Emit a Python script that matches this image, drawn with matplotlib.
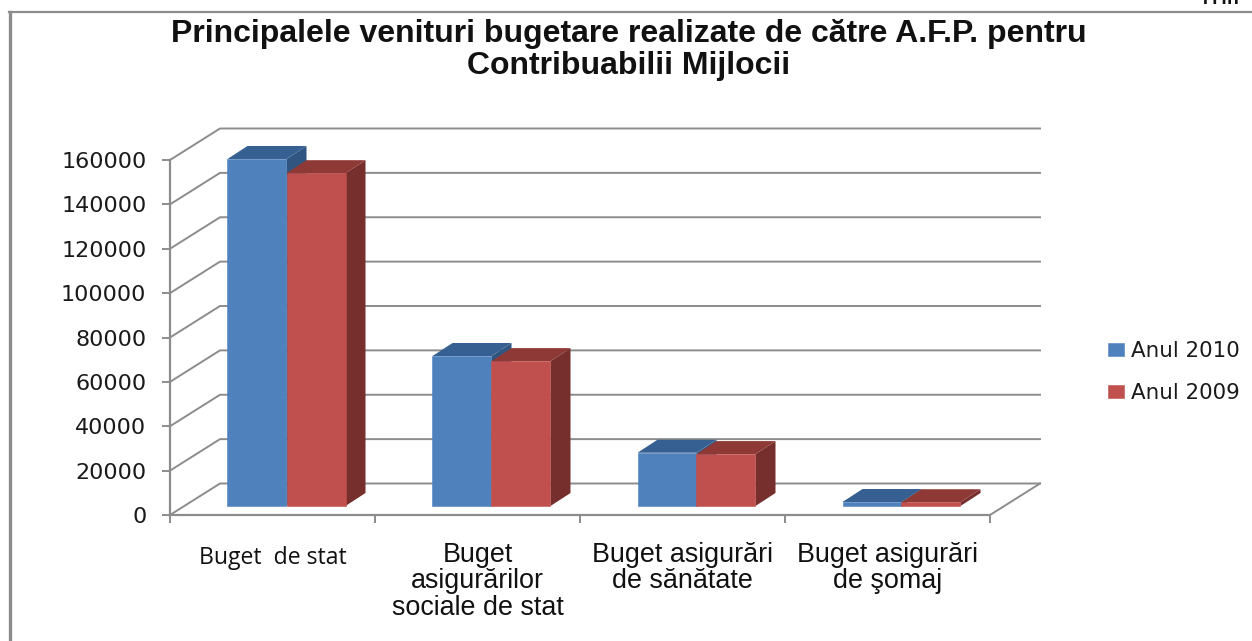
import matplotlib
matplotlib.use("Agg")
import matplotlib.pyplot as plt
from matplotlib.patches import Polygon
from matplotlib.lines import Line2D

title = "Principalele venituri bugetare realizate de către A.F.P. pentru\nContribuabilii Mijlocii"
categories = ["Buget  de stat", "Buget\nasigurărilor\nsociale de stat", "Buget asigurări\nde sănătate", "Buget asigurări\nde şomaj"]
series_names = ["Anul 2010", "Anul 2009"]
values_2010 = [156400, 67600, 24000, 1800]
values_2009 = [150000, 65300, 23400, 1700]
y_ticks = [0, 20000, 40000, 60000, 80000, 100000, 120000, 140000, 160000]

W, H = 1252, 641
GRAY = "#8c8c8c"
front = ["#4f81bd", "#c0504d"]
top = ["#376092", "#8e3936"]
side = ["#2f5580", "#772f2d"]

fig = plt.figure(figsize=(W / 100, H / 100), dpi=100, facecolor="white")
ax = fig.add_axes([170 / W, (H - 515) / H, 820 / W, 355 / H], facecolor="none")
ax.set_xlim(0, 4)
ax.set_ylim(0, 160000)
px_x = 4 / 820
px_y = 160000 / 355

# wall depth and bar placement, in pixels converted to data units
dx, dy = 50 * px_x, 31.5 * px_y
bx0, by0 = 14 * px_x, 9 * px_y
bdx, bdy = 20 * px_x, 13 * px_y
bw = 59 * px_x

# walls and gridlines
for v in y_ticks:
    ax.plot([0, dx, 4 + dx], [v, v + dy, v + dy], color=GRAY, lw=1.4, clip_on=False, zorder=1, solid_joinstyle="miter")
ax.plot([4, 4 + dx], [0, dy], color=GRAY, lw=1.4, clip_on=False, zorder=1)

# 3-D bars
for s, vals in enumerate([values_2010, values_2009]):
    for i, v in enumerate(vals):
        x0 = i + 0.5 + bx0 + (s - 1) * bw
        x1 = x0 + bw
        b = by0
        t = b + v
        ax.add_patch(Polygon([(x1, b), (x1 + bdx, b + bdy), (x1 + bdx, t + bdy), (x1, t)], fc=side[s], ec="none", clip_on=False, zorder=3 + s))
        ax.add_patch(Polygon([(x0, t), (x0 + bdx, t + bdy), (x1 + bdx, t + bdy), (x1, t)], fc=top[s], ec="none", clip_on=False, zorder=3 + s))
    xs = [i + 0.5 + bx0 + (s - 1) * bw for i in range(4)]
    ax.bar(xs, vals, width=bw, bottom=by0, align="edge", color=front[s], edgecolor=front[s], linewidth=0.4,
           label=series_names[s], clip_on=False, zorder=3 + s)

# axes
for k, sp in ax.spines.items():
    sp.set_visible(k in ("left", "bottom"))
    sp.set_color(GRAY)
    sp.set_linewidth(1.6)
ax.set_yticks(y_ticks)
ax.set_yticklabels([str(v) for v in y_ticks], fontfamily="DejaVu Sans", fontsize=16, color="#1a1a1a")
ax.tick_params(axis="y", length=6, width=1.4, color=GRAY, pad=11)
ax.set_xticks([i + 0.5 for i in range(4)])
ax.set_xticklabels(categories, fontfamily="Liberation Sans", fontsize=19.4, color="#111111", linespacing=1.02)
ax.tick_params(axis="x", which="major", length=0, pad=19.5)
ax.xaxis.get_major_ticks()[0].set_pad(22)
ax.set_xticks(range(5), minor=True)
ax.tick_params(axis="x", which="minor", length=6, width=1.4, color=GRAY)
first = ax.get_xticklabels()[0]
first.set_fontfamily("Open Sans")
first.set_fontsize(16.6)

# legend
handles, labels = ax.get_legend_handles_labels()
fig.legend(handles, labels, loc="center left", bbox_to_anchor=(1108 / W, (H - 372) / H), frameon=False,
           prop={"family": "DejaVu Sans", "size": 15.4}, handlelength=0.75, handleheight=0.56,
           handletextpad=0.33, labelspacing=1.0, borderpad=0, borderaxespad=0, labelcolor="#1a1a1a")

# title and outer frame
fig.text(629 / W, (H - 50) / H, title, ha="center", va="center", fontfamily="Liberation Sans", fontweight="bold",
         fontsize=23, color="#111111", linespacing=1.05)
fig.add_artist(Line2D([9 / W, 1], [(H - 12) / H, (H - 12) / H], color=GRAY, lw=1.6, transform=fig.transFigure))
fig.add_artist(Line2D([10 / W, 10 / W], [(H - 12) / H, 0], color=GRAY, lw=2.4, transform=fig.transFigure))
fig.text(1221 / W, (H - 4) / H, "mii", ha="center", va="baseline", fontfamily="Liberation Sans", fontsize=22, color="#111111")

fig.savefig("out.png", dpi=100, facecolor="white")
